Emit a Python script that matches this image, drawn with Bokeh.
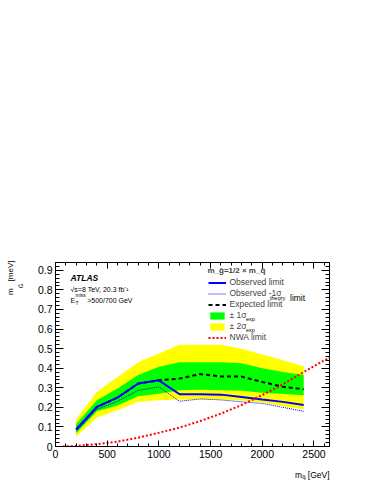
import math
from bokeh.plotting import figure
from bokeh.models import (Label, Legend, LegendItem, LinearAxis, Range1d, FixedTicker,
                          SingleIntervalTicker, CustomJSTickFormatter, ColumnDataSource)
from bokeh.embed import file_html
from bokeh.resources import INLINE

# ---------------- data ----------------
mass = [200, 400, 600, 800, 1000, 1200, 1400, 1600, 1800, 2000, 2200, 2400]
exp_p2 = [0.14, 0.28, 0.355, 0.43, 0.475, 0.52, 0.52, 0.52, 0.50, 0.47, 0.44, 0.41]
exp_p1 = [0.115, 0.236, 0.296, 0.365, 0.408, 0.43, 0.43, 0.43, 0.425, 0.40, 0.38, 0.365]
expected = [0.087, 0.202, 0.25, 0.322, 0.338, 0.347, 0.37, 0.358, 0.357, 0.33, 0.305, 0.292]
observed = [0.087, 0.202, 0.25, 0.322, 0.338, 0.267, 0.267, 0.265, 0.253, 0.24, 0.228, 0.212]
obs_m1 = [0.078, 0.19, 0.231, 0.287, 0.304, 0.231, 0.243, 0.238, 0.228, 0.22, 0.2, 0.18]
exp_m1 = [0.066, 0.18, 0.21, 0.257, 0.27, 0.287, 0.29, 0.287, 0.285, 0.275, 0.268, 0.262]
exp_m2 = [0.05, 0.148, 0.185, 0.228, 0.236, 0.24, 0.24, 0.24, 0.235, 0.225, 0.205, 0.19]

nwa_mass = [70, 200, 400, 600, 800, 1000, 1200, 1400, 1600, 1800, 2000, 2200, 2400, 2650]
nwa_limit = [0.0, 0.003, 0.012, 0.025, 0.045, 0.07, 0.097, 0.13, 0.168, 0.212, 0.263, 0.318, 0.38, 0.455]

x_ticks_interval = 500
y_ticks_interval = 0.1

FONT = "Liberation Sans"

W, H = 374, 484
FL, FR, FT, FB = 55, 329, 262, 446  # frame edges in picture pixels
XMAX, YMAX = 2650, 0.94

p = figure(width=W, height=H, output_backend="svg", toolbar_location=None,
           x_range=Range1d(0, XMAX), y_range=Range1d(0, YMAX),
           min_border_left=FL, min_border_right=W - FR, min_border_top=FT,
           min_border_bottom=H - FB, x_axis_type=None, y_axis_type=None)
p.grid.visible = False
p.outline_line_color = "black"
p.outline_line_width = 1
p.background_fill_color = "white"
p.border_fill_color = "white"

def make_axis(kind, labels=True):
    ax = LinearAxis()
    if kind == "x":
        ax.ticker = SingleIntervalTicker(interval=x_ticks_interval, num_minor_ticks=5)
        ax.major_tick_in = 6
        ax.minor_tick_in = 3
    else:
        ax.ticker = SingleIntervalTicker(interval=y_ticks_interval, num_minor_ticks=5)
        ax.major_tick_in = 8
        ax.minor_tick_in = 4
    ax.major_tick_out = 0
    ax.minor_tick_out = 0
    ax.axis_line_color = "black"
    ax.major_tick_line_color = "black"
    ax.minor_tick_line_color = "black"
    ax.major_label_text_font = FONT
    ax.major_label_text_font_size = "10.5px"
    ax.major_label_text_color = "black"
    ax.major_label_standoff = 3
    if not labels:
        ax.formatter = CustomJSTickFormatter(code="return ''")
        ax.major_label_standoff = 0
    return ax

p.add_layout(make_axis("x"), "below")
p.add_layout(make_axis("x", False), "above")
p.add_layout(make_axis("y"), "left")
p.add_layout(make_axis("y", False), "right")

src = ColumnDataSource(dict(m=mass, p2=exp_p2, p1=exp_p1, e=expected, o=observed,
                            om=obs_m1, m1=exp_m1, m2=exp_m2))
r_y = p.varea(x="m", y1="m2", y2="p2", source=src, fill_color="#ffff00")
r_g = p.varea(x="m", y1="m1", y2="p1", source=src, fill_color="#00ff00")
r_om = p.line(x="m", y="om", source=src, line_color="#0000ff", line_width=1, line_dash="1 1")
r_e = p.line(x="m", y="e", source=src, line_color="black", line_width=2, line_dash="4 3")
r_o = p.line(x="m", y="o", source=src, line_color="#0000ff", line_width=2)
r_n = p.line(x=nwa_mass, y=nwa_limit, line_color="#ff0000", line_width=2, line_dash="2 2")

legend = Legend(items=[
    LegendItem(label="Observed limit", renderers=[r_o]),
    LegendItem(label="Observed -1\u03c3", renderers=[r_om]),
    LegendItem(label="Expected limit", renderers=[r_e]),
    LegendItem(label="\u00b1 1\u03c3", renderers=[r_g]),
    LegendItem(label="\u00b1 2\u03c3", renderers=[r_y]),
    LegendItem(label="NWA limit", renderers=[r_n]),
])
legend.title = "m_g\u0303=1/2 \u00d7 m_q\u0303"
legend.title_text_font = FONT
legend.title_text_font_style = "bold"
legend.title_text_font_size = "8px"
legend.title_standoff = 2
legend.label_text_font = FONT
legend.label_text_font_size = "8.5px"
legend.label_height = 9
legend.glyph_height = 9
legend.glyph_width = 18
legend.label_standoff = 4
legend.spacing = 1
legend.padding = 0
legend.margin = 0
legend.border_line_alpha = 0
legend.background_fill_alpha = 0
legend.location = (152.5, 104)
p.add_layout(legend, "center")

def lab(text, px, py, size, style="normal", align="left", baseline="alphabetic", angle=0):
    p.add_layout(Label(x=px - FL, y=FB - py, x_units="screen", y_units="screen",
                       text=text, text_font=FONT, text_font_size=size,
                       text_font_style=style, text_align=align,
                       text_baseline=baseline, angle=angle, text_color="black"))

# legend sub-scripts
lab("theory", 269.5, 297.5, "5.5px")
lab("limit", 289.5, 297.7, "8.5px")
lab("exp", 245.5, 318.5, "5.5px")
lab("exp", 245.5, 329.0, "5.5px")

# ATLAS block
lab("ATLAS", 70, 277, "8.5px", style="bold italic")
lab("\u221as=8 TeV, 20.3 fb\u207b\u00b9", 70, 288.7, "7px")
lab("E", 70, 299.5, "7px")
lab("T", 75, 302, "5px")
lab("miss", 75, 294.5, "5px")
lab(">500/700 GeV", 86.7, 299.5, "7px")

# x-axis title: labels kept in a side panel (not clipped), placed by the frame's scales
def out_lab(text, px, py, size, align="left", baseline="alphabetic"):
    x = (px - FL) * XMAX / (FR - FL)
    y = (FB - py) * YMAX / (FB - FT)
    p.add_layout(Label(x=x, y=y, x_units="data", y_units="data",
                       text=text, text_font=FONT, text_font_size=size,
                       text_align=align, text_baseline=baseline,
                       text_color="black"), "above")

out_lab("[GeV]", 329, 474, "8.5px", align="right")
out_lab("q\u0303", 305, 476, "6px", align="right")
out_lab("m", 301.7, 474, "8.5px", align="right")

# y-axis title: rotated texts drawn as tick labels of extra, line-less left axes
def py2v(py):
    return (FB - py) * YMAX / (FB - FT)

ytitle_main_pos = [py2v(291.1), py2v(270.4)]
ytitle_main_txt = ["m", "[meV]"]
ytitle_sub_pos = [py2v(285.4)]
ytitle_sub_txt = ["G\u0303"]

def text_axis(positions, texts, size, standoff):
    ax = LinearAxis(ticker=FixedTicker(ticks=positions, minor_ticks=[]))
    ax.major_label_overrides = {v: t for v, t in zip(positions, texts)}
    ax.major_label_orientation = "vertical"
    ax.major_label_text_font = FONT
    ax.major_label_text_font_size = size
    ax.major_label_text_color = "black"
    ax.major_label_standoff = standoff
    ax.axis_line_color = None
    ax.major_tick_line_color = None
    ax.minor_tick_line_color = None
    ax.major_tick_in = 0
    ax.major_tick_out = 0
    ax.minor_tick_in = 0
    ax.minor_tick_out = 0
    p.add_layout(ax, "left")

text_axis(ytitle_sub_pos, ytitle_sub_txt, "6px", 10)
text_axis(ytitle_main_pos, ytitle_main_txt, "8px", 0)

open("out.html", "w").write(file_html(p, INLINE))
